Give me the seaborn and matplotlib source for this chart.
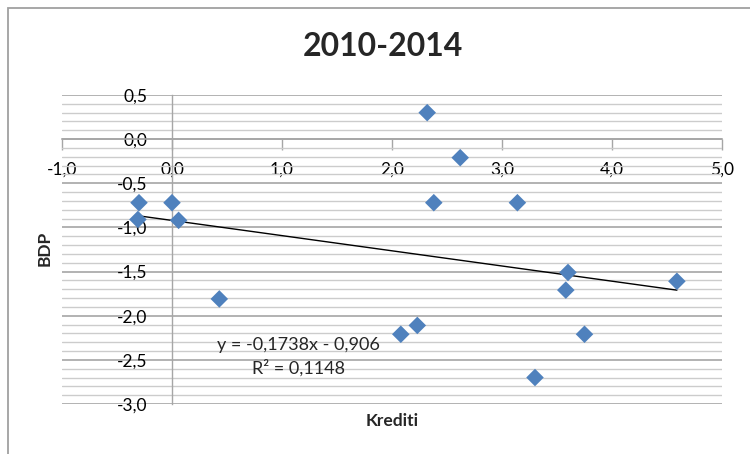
import numpy as np
import pandas as pd
import matplotlib
matplotlib.use('Agg')
import matplotlib.pyplot as plt
import seaborn as sns
from matplotlib.ticker import FixedLocator, FixedFormatter, MultipleLocator
from matplotlib.patches import Rectangle

# ---- data ----
krediti = [-0.30, 0.00, -0.31, 0.06, 2.32, 2.62, 2.38, 3.14, 3.60, 3.58, 4.59, 2.23, 2.08, 3.75, 3.30, 0.43]
bdp = [-0.72, -0.72, -0.91, -0.92, 0.30, -0.21, -0.72, -0.72, -1.51, -1.71, -1.61, -2.11, -2.21, -2.21, -2.70, -1.81]

x_ticks = [-1, 0, 1, 2, 3, 4, 5]
x_tick_labels = ['-1,0', '0,0', '1,0', '2,0', '3,0', '4,0', '5,0']
y_ticks = [0.5, 0.0, -0.5, -1.0, -1.5, -2.0, -2.5, -3.0]
y_tick_labels = ['0,5', '0,0', '-0,5', '-1,0', '-1,5', '-2,0', '-2,5', '-3,0']

title = '2010-2014'
x_label = 'Krediti'
y_label = 'BDP'
eq_text = 'y = -0,1738x - 0,906'
r2_text = 'R\u00b2 = 0,1148'

# ---- style ----
sns.set_theme(style='white')
plt.rcParams['font.family'] = ['Lato', 'DejaVu Sans']

W, H = 750, 454
fig = plt.figure(figsize=(W / 100, H / 100), dpi=100)
ax = fig.add_axes([62 / W, 50 / H, 660 / W, 309 / H])

df = pd.DataFrame({'Krediti': krediti, 'BDP': bdp})
sns.regplot(data=df, x='Krediti', y='BDP', ax=ax, scatter=False, ci=None,
            truncate=True, line_kws=dict(color='black', lw=1.0, zorder=2))
sns.scatterplot(data=df, x='Krediti', y='BDP', ax=ax, marker='D', s=80,
                color='#4f81bd', edgecolor='none', zorder=3, legend=False)

ax.set_xlim(-1, 5)
ax.set_ylim(-3, 0.5)
ax.set_xlabel('')
ax.set_ylabel('')

ax.xaxis.set_major_locator(FixedLocator(x_ticks))
ax.xaxis.set_major_formatter(FixedFormatter(x_tick_labels))
ax.yaxis.set_major_locator(FixedLocator(y_ticks))
ax.yaxis.set_major_formatter(FixedFormatter(y_tick_labels))
ax.yaxis.set_minor_locator(MultipleLocator(0.1))

ax.grid(False)
ax.grid(which='major', axis='y', color='#a6a6a6', lw=1.2, zorder=0)
ax.grid(which='minor', axis='y', color='#cccccc', lw=1.0, zorder=0)
ax.set_axisbelow(True)

for s in ['top', 'right']:
    ax.spines[s].set_visible(False)
ax.spines['left'].set_position(('data', 0))
ax.spines['bottom'].set_position(('data', 0))
ax.spines['left'].set_color('#a6a6a6')
ax.spines['bottom'].set_color('#a6a6a6')
ax.spines['left'].set_linewidth(1.0)
ax.spines['bottom'].set_linewidth(1.2)

ax.tick_params(axis='x', which='major', direction='out', length=8, width=1,
               color='#a6a6a6', pad=8, labelsize=12.5, labelcolor='black', bottom=True)
ax.tick_params(axis='y', which='major', length=0, pad=18, labelsize=12.5, labelcolor='black', left=True)
ax.tick_params(axis='y', which='minor', length=0)

fig.text(383 / W, 1 - 47 / H, title, ha='center', va='center', fontsize=23, fontweight='bold')
fig.text(392 / W, 1 - 421 / H, x_label, ha='center', va='center', fontsize=12.5, fontweight='bold')
fig.text(45 / W, 1 - 248 / H, y_label, ha='center', va='center', fontsize=12.5,
         fontweight='bold', rotation=90)
fig.text(298 / W, 1 - 345 / H, eq_text, ha='center', va='center', fontsize=13)
fig.text(298 / W, 1 - 368 / H, r2_text, ha='center', va='center', fontsize=13)

fig.add_artist(Rectangle((8 / W, -0.05), 1.1, 1 - 8 / H + 0.05, transform=fig.transFigure,
                         fill=False, edgecolor='#a0a0a0', lw=1.3))

fig.savefig('out.png', dpi=100)
